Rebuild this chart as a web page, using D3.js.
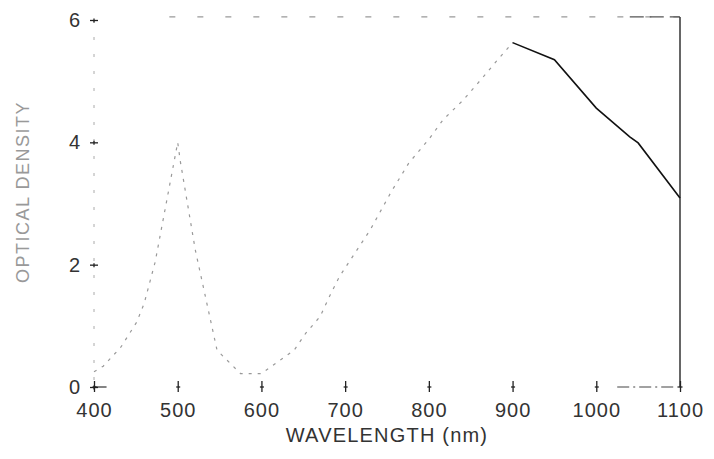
<!DOCTYPE html>
<html>
<head>
<meta charset="utf-8">
<script src="https://cdn.jsdelivr.net/npm/d3@7"></script>
<style>
  html, body { margin: 0; padding: 0; background: #fff; }
  svg { display: block; }
  text { font-family: "Liberation Sans", Arial, sans-serif; }
</style>
</head>
<body>
<svg id="chart" width="714" height="459"></svg>
<script>
// ---- data ----
const wavelength = [400, 411, 432, 451, 460, 473, 500, 503, 521, 547, 575, 600, 639, 653, 670, 682, 693, 730, 755, 776, 800, 817, 841, 865, 881, 900, 950, 1000, 1040, 1050, 1100];
const density    = [0.25, 0.34, 0.65, 1.06, 1.37, 2.04, 4.0, 3.7, 2.24, 0.6, 0.22, 0.22, 0.6, 0.88, 1.15, 1.5, 1.8, 2.57, 3.19, 3.66, 4.05, 4.37, 4.69, 5.07, 5.33, 5.63, 5.35, 4.56, 4.09, 3.99, 3.09];
const xTicks = [400, 500, 600, 700, 800, 900, 1000, 1100];
const yTicks = [0, 2, 4, 6];
const xTitle = "WAVELENGTH (nm)";
const yTitle = "OPTICAL DENSITY";
const solidFrom = 900; // part of the trace that printed dark in the scan

const svg = d3.select("#chart");
const x = d3.scaleLinear().domain([400, 1100]).range([94, 680]);
const y = d3.scaleLinear().domain([0, 6]).range([387, 20]);

const pts = wavelength.map((w, i) => ({ w, d: density[i] }));

// ---- frame ----
const frameTop = y(6.05);
svg.append("line").attr("x1", x(400)).attr("x2", x(400)).attr("y1", y(6)).attr("y2", y(0))
  .attr("stroke", "#aaa").attr("stroke-width", 1).attr("stroke-dasharray", "3,14");
svg.append("line").attr("x1", x(490)).attr("x2", x(1100)).attr("y1", frameTop).attr("y2", frameTop)
  .attr("stroke", "#999").attr("stroke-width", 1.2).attr("stroke-dasharray", "6,22");
svg.append("line").attr("x1", x(1040)).attr("x2", x(1100)).attr("y1", frameTop).attr("y2", frameTop)
  .attr("stroke", "#555").attr("stroke-width", 1.2).attr("stroke-dasharray", "14,6");
svg.append("line").attr("x1", x(1100)).attr("x2", x(1100)).attr("y1", frameTop).attr("y2", y(0))
  .attr("stroke", "#333").attr("stroke-width", 1.5);
svg.append("line").attr("x1", x(400)).attr("x2", x(415)).attr("y1", y(0)).attr("y2", y(0))
  .attr("stroke", "#333").attr("stroke-width", 1.2);
svg.append("line").attr("x1", x(1025)).attr("x2", x(1100)).attr("y1", y(0)).attr("y2", y(0))
  .attr("stroke", "#444").attr("stroke-width", 1.1).attr("stroke-dasharray", "12,4,2,4");

// ---- ticks (plus marks) ----
const xAxis = d3.axisBottom(x).tickValues(xTicks).tickSize(0).tickPadding(16).tickFormat(d3.format("d"));
const gx = svg.append("g").attr("transform", `translate(0,${y(0)})`).call(xAxis);
gx.select(".domain").remove();
gx.selectAll("text").attr("font-size", 20).attr("fill", "#333").attr("letter-spacing", 1);
gx.selectAll(".tick").append("line").attr("x1", 0).attr("x2", 0).attr("y1", -6).attr("y2", 5)
  .attr("stroke", "#222").attr("stroke-width", 1.3);
gx.selectAll(".tick").append("line").attr("x1", -2).attr("x2", 2).attr("y1", 0).attr("y2", 0)
  .attr("stroke", "#222").attr("stroke-width", 1.3);

const yAxis = d3.axisLeft(y).tickValues(yTicks).tickSize(0).tickPadding(14).tickFormat(d3.format("d"));
const gy = svg.append("g").attr("transform", `translate(${x(400)},0)`).call(yAxis);
gy.select(".domain").remove();
gy.selectAll("text").attr("font-size", 20).attr("fill", "#333");
gy.selectAll(".tick").append("line").attr("x1", -4).attr("x2", 4).attr("y1", 0).attr("y2", 0)
  .attr("stroke", "#222").attr("stroke-width", 1.3);
gy.selectAll(".tick").append("line").attr("x1", 0).attr("x2", 0).attr("y1", -2).attr("y2", 2)
  .attr("stroke", "#222").attr("stroke-width", 1.3);

// ---- titles ----
svg.append("text").attr("x", 387).attr("y", 442).attr("text-anchor", "middle")
  .attr("font-size", 20).attr("letter-spacing", 1.2).attr("fill", "#333").text(xTitle);
svg.append("text").attr("transform", "translate(29,192) rotate(-90)").attr("text-anchor", "middle")
  .attr("font-size", 18).attr("letter-spacing", 1.5).attr("fill", "#999").text(yTitle);

// ---- trace ----
const line = d3.line().x(d => x(d.w)).y(d => y(d.d));
svg.append("path").datum(pts.filter(p => p.w <= solidFrom)).attr("d", line)
  .attr("fill", "none").attr("stroke", "#999").attr("stroke-width", 1.2).attr("stroke-dasharray", "3,6");
svg.append("path").datum(pts.filter(p => p.w >= solidFrom)).attr("d", line)
  .attr("fill", "none").attr("stroke", "#111").attr("stroke-width", 1.6);
</script>
</body>
</html>
